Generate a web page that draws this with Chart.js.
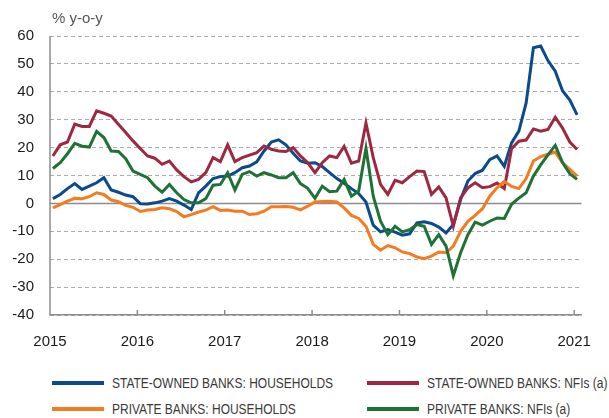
<!DOCTYPE html>
<html>
<head>
<meta charset="utf-8">
<script src="https://cdn.jsdelivr.net/npm/chart.js@4.4.1/dist/chart.umd.min.js"></script>
<style>
  html, body { margin: 0; padding: 0; background: #fff; }
  #wrap { position: relative; width: 609px; height: 418px; font-family: "Liberation Sans", Arial, sans-serif; }
  #chart { position: absolute; left: 0; top: 0; }
  #unit { position: absolute; left: 52px; top: 9px; font-size: 15px; color: #555; }
  .legend-item { position: absolute; display: flex; align-items: center; height: 20px;
    font-family: "Liberation Sans", sans-serif; font-size: 14px; color: #3a3a3a; white-space: nowrap; }
  .legend-item .swatch { width: 52px; height: 4px; margin-right: 8px; flex: none; }
  .legend-item .txt { display: inline-block; transform: scaleX(0.855); transform-origin: left center; }
</style>
</head>
<body>
<div id="wrap">
  <canvas id="chart" width="609" height="360"></canvas>
  <div id="unit">% y-o-y</div>
  <div id="legend"></div>
</div>
<script>
// ── Data (monthly, Jan 2015 – Jan 2021, % y-o-y) ───────────
const yearLabels = ['2015', '2016', '2017', '2018', '2019', '2020', '2021'];

const stateHouseholds = [
  1.7, 3.2, 5.3, 7.1, 5.0, 6.2, 7.4, 9.2, 4.8, 4.0, 3.0, 2.4,
  -0.1, -0.2, 0.2, 0.8, 1.7, 0.8, -0.6, -2.2, 3.8, 6.2, 8.9, 9.6,
  9.8, 11.0, 12.8, 13.4, 14.9, 18.8, 22.0, 22.8, 21.0, 18.0, 15.2, 14.4,
  14.6, 13.2, 11.0, 8.9, 7.2, 5.3, 3.5, 0.5, -7.8, -10.2, -9.4, -10.3,
  -11.4, -10.9, -7.0, -6.6, -7.2, -8.5, -10.6, -7.6, 1.4, 8.0, 10.7, 11.9,
  15.7, 17.0, 13.3, 21.7, 25.9, 36.0, 55.8, 56.4, 51.2, 47.4, 40.4, 37.0,
  31.7
];
const stateNfis = [
  17.0, 21.0, 22.0, 28.4, 27.6, 27.6, 33.2, 32.3, 31.3, 28.4, 25.4, 22.4,
  19.7, 17.0, 16.2, 14.0, 15.2, 12.0, 9.6, 7.7, 8.6, 11.0, 16.4, 15.0,
  21.0, 15.0, 16.4, 17.3, 18.2, 20.6, 19.4, 18.8, 18.6, 20.0, 17.0, 14.6,
  11.0, 14.6, 17.0, 16.4, 20.4, 14.4, 15.2, 28.8, 16.4, 6.8, 3.2, 8.3,
  7.4, 9.6, 11.6, 11.4, 3.2, 5.9, 2.0, -8.2, 2.0, 5.6, 7.4, 5.6,
  6.0, 7.3, 5.3, 19.6, 22.3, 22.7, 26.7, 25.9, 26.5, 30.9, 27.0, 22.0,
  19.3
];
const privateHouseholds = [
  -1.6, -0.4, 0.8, 1.8, 1.7, 2.4, 3.8, 3.2, 1.2, 0.6, -0.7, -1.4,
  -2.9, -2.4, -2.2, -1.6, -1.9, -2.9, -4.8, -4.0, -3.1, -2.4, -1.2, -2.5,
  -2.4, -2.8, -2.8, -4.0, -3.7, -2.8, -1.2, -1.2, -1.1, -1.4, -2.3, -1.0,
  0.5, 0.7, 0.8, 0.5, -1.6, -4.3, -5.4, -8.2, -14.7, -16.8, -15.1, -15.9,
  -17.4, -18.0, -19.2, -19.8, -18.9, -17.4, -17.7, -15.3, -10.0, -6.4, -4.3, -1.9,
  2.6, 5.6, 7.9, 6.1, 5.3, 8.9, 15.2, 16.8, 17.6, 18.4, 14.6, 12.2,
  9.8
];
const privateNfis = [
  12.5, 14.6, 17.8, 21.5, 20.5, 20.2, 25.8, 23.6, 18.8, 18.6, 16.0, 11.6,
  10.4, 9.2, 6.2, 4.0, 6.8, 3.8, 1.4, 0.2, 0.2, 1.7, 6.5, 6.8,
  11.0, 4.8, 10.4, 11.4, 9.8, 11.0, 10.2, 9.2, 9.2, 11.0, 7.1, 5.4,
  1.8, 6.2, 4.2, 4.4, 8.6, 2.6, 4.4, 19.8, 2.6, -6.4, -11.2, -8.2,
  -10.2, -9.4, -7.6, -8.2, -14.7, -11.2, -15.3, -25.9, -17.7, -11.2, -6.7, -7.8,
  -6.4, -5.2, -5.4, -0.3, 1.9, 3.8, 9.8, 13.8, 17.4, 20.8, 14.6, 10.6,
  8.6
];

const seriesLabels = [
  'STATE-OWNED BANKS: HOUSEHOLDS',
  'STATE-OWNED BANKS: NFIs (a)',
  'PRIVATE BANKS: HOUSEHOLDS',
  'PRIVATE BANKS: NFIs (a)',
];
const seriesColors = ['#0b4a8b', '#9e2842', '#f47b20', '#1f7236'];
const seriesValues = [stateHouseholds, stateNfis, privateHouseholds, privateNfis];

// ── Chart ──────────────────────────────────────────────────
const MONTH_OFFSET = 0.4;

function toPoints(values) {
  return values.map(function(v, i) { return { x: i + MONTH_OFFSET, y: v }; });
}

const axisExtras = {
  id: 'axisExtras',
  beforeDatasetsDraw: function(chart) {
    const ctx = chart.ctx;
    const area = chart.chartArea;
    const x = chart.scales.x;
    const y = chart.scales.y;
    ctx.save();
    // zero line
    ctx.strokeStyle = '#8c8c8c';
    ctx.lineWidth = 1.5;
    ctx.beginPath();
    ctx.moveTo(area.left, y.getPixelForValue(0));
    ctx.lineTo(area.right, y.getPixelForValue(0));
    ctx.stroke();
    // left axis line
    ctx.beginPath();
    ctx.moveTo(area.left, area.top);
    ctx.lineTo(area.left, area.bottom);
    ctx.stroke();
    // inward year ticks
    x.ticks.forEach(function(t) {
      if (t.value === 0) return;
      const px = x.getPixelForValue(t.value);
      ctx.beginPath();
      ctx.moveTo(px, area.bottom);
      ctx.lineTo(px, area.bottom - 5);
      ctx.stroke();
    });
    ctx.restore();
  }
};

new Chart(document.getElementById('chart'), {
  type: 'line',
  data: {
    datasets: seriesValues.map(function(values, i) {
      return {
        label: seriesLabels[i],
        data: toPoints(values),
        borderColor: seriesColors[i],
        backgroundColor: seriesColors[i],
        borderWidth: 3,
        pointRadius: 0,
        tension: 0,
        fill: false,
        order: seriesValues.length - i,
      };
    })
  },
  options: {
    responsive: false,
    animation: false,
    layout: { padding: { top: 36, right: 10, left: 0, bottom: 0 } },
    plugins: { legend: { display: false }, tooltip: { enabled: false } },
    scales: {
      x: {
        type: 'linear',
        min: 0,
        max: 73,
        afterBuildTicks: function(scale) {
          scale.ticks = yearLabels.map(function(_, i) { return { value: i * 12 }; });
        },
        afterFit: function(scale) { scale.height = 45; },
        ticks: {
          color: '#1a1a1a',
          font: { family: 'Liberation Sans', size: 15 },
          padding: 18,
          maxRotation: 0,
          autoSkip: false,
          callback: function(v) { return yearLabels[Math.round(v / 12)]; }
        },
        grid: { drawOnChartArea: false, drawTicks: false },
        border: { color: '#8c8c8c', width: 1.5 },
      },
      y: {
        min: -40,
        max: 60,
        afterFit: function(scale) { scale.width = 50; },
        ticks: {
          stepSize: 10,
          color: '#1a1a1a',
          font: { family: 'Liberation Sans', size: 15 },
          padding: 16,
        },
        grid: {
          drawTicks: false,
          color: function(c) { return c.tick && c.tick.value === 0 ? 'rgba(0,0,0,0)' : '#ababab'; },
          lineWidth: 1,
          borderDash: [4, 3],
        },
        border: { display: false, dash: [4, 3] },
      }
    }
  },
  plugins: [axisExtras]
});

// ── Legend ─────────────────────────────────────────────────
const legendSlots = [
  { left: 52, top: 373 }, { left: 367, top: 373 },
  { left: 52, top: 399 }, { left: 367, top: 399 },
];
document.getElementById('legend').innerHTML = seriesLabels.map(function(label, i) {
  const s = legendSlots[i];
  return '<div class="legend-item" style="left:' + s.left + 'px;top:' + s.top + 'px">' +
    '<span class="swatch" style="background:' + seriesColors[i] + '"></span>' +
    '<span class="txt">' + label + '</span></div>';
}).join('');
</script>
</body>
</html>
